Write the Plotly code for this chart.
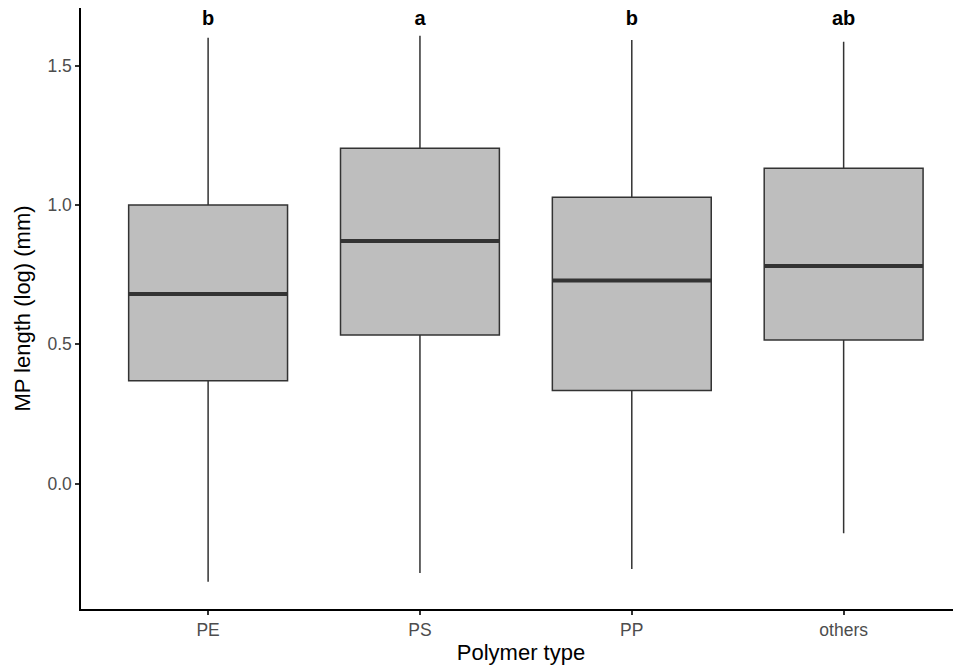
import plotly.graph_objects as go

# polymer types and box statistics (log MP length, mm)
polymers = ['PE', 'PS', 'PP', 'others']
lower = [-0.352, -0.321, -0.306, -0.178]
q1 = [0.369, 0.534, 0.334, 0.516]
median = [0.681, 0.871, 0.729, 0.781]
q3 = [1.000, 1.204, 1.028, 1.132]
upper = [1.601, 1.608, 1.593, 1.586]
letters = ['b', 'a', 'b', 'ab']
letter_y = [1.664, 1.664, 1.664, 1.664]

pos = [1, 2, 3, 4]
box_w = 0.75

fig = go.Figure()

for i, p in enumerate(polymers):
    fig.add_trace(go.Box(
        x=[pos[i]], q1=[q1[i]], median=[median[i]], q3=[q3[i]],
        lowerfence=[lower[i]], upperfence=[upper[i]],
        width=box_w, whiskerwidth=0,
        fillcolor='#BEBEBE', line=dict(color='#333333', width=1.5),
        boxpoints=False, name=p, showlegend=False,
    ))
    # thicker median line like ggplot
    fig.add_trace(go.Scatter(
        x=[pos[i] - box_w / 2, pos[i] + box_w / 2], y=[median[i], median[i]],
        mode='lines', line=dict(color='#333333', width=4),
        showlegend=False, hoverinfo='skip',
    ))

fig.add_trace(go.Scatter(
    x=pos, y=letter_y, mode='text', text=['<b>%s</b>' % t for t in letters],
    textfont=dict(family='Liberation Sans, Arial', size=20, color='black'),
    textposition='middle center', showlegend=False, hoverinfo='skip',
    cliponaxis=False,
))

# page body has an 8px margin, so the figure is a bit smaller and offset
fig.update_layout(
    width=953, height=660,
    margin=dict(l=73, r=0, t=0, b=59),
    plot_bgcolor='white', paper_bgcolor='white',
    font=dict(family='Liberation Sans, Arial', color='black'),
    xaxis=dict(
        range=[0.4, 4.554], tickmode='array', tickvals=pos, ticktext=polymers,
        showline=True, linecolor='black', linewidth=1.5, showgrid=False, zeroline=False,
        ticks='outside', ticklen=4, tickcolor='#333333', tickwidth=1.5,
        tickfont=dict(size=17.5, color='#4D4D4D'),
        title=dict(text='Polymer type', font=dict(size=22, color='black'), standoff=6),
    ),
    yaxis=dict(
        range=[-0.450, 1.7075], tickvals=[0.0, 0.5, 1.0, 1.5],
        ticktext=['0.0', '0.5', '1.0', '1.5'],
        showline=True, linecolor='black', linewidth=1.5, showgrid=False, zeroline=False,
        ticks='outside', ticklen=4, tickcolor='#333333', tickwidth=1.5,
        tickfont=dict(size=17.5, color='#4D4D4D'),
        title=dict(text='MP length (log) (mm)', font=dict(size=22, color='black'), standoff=11),
    ),
)

fig.write_html('out.html')
